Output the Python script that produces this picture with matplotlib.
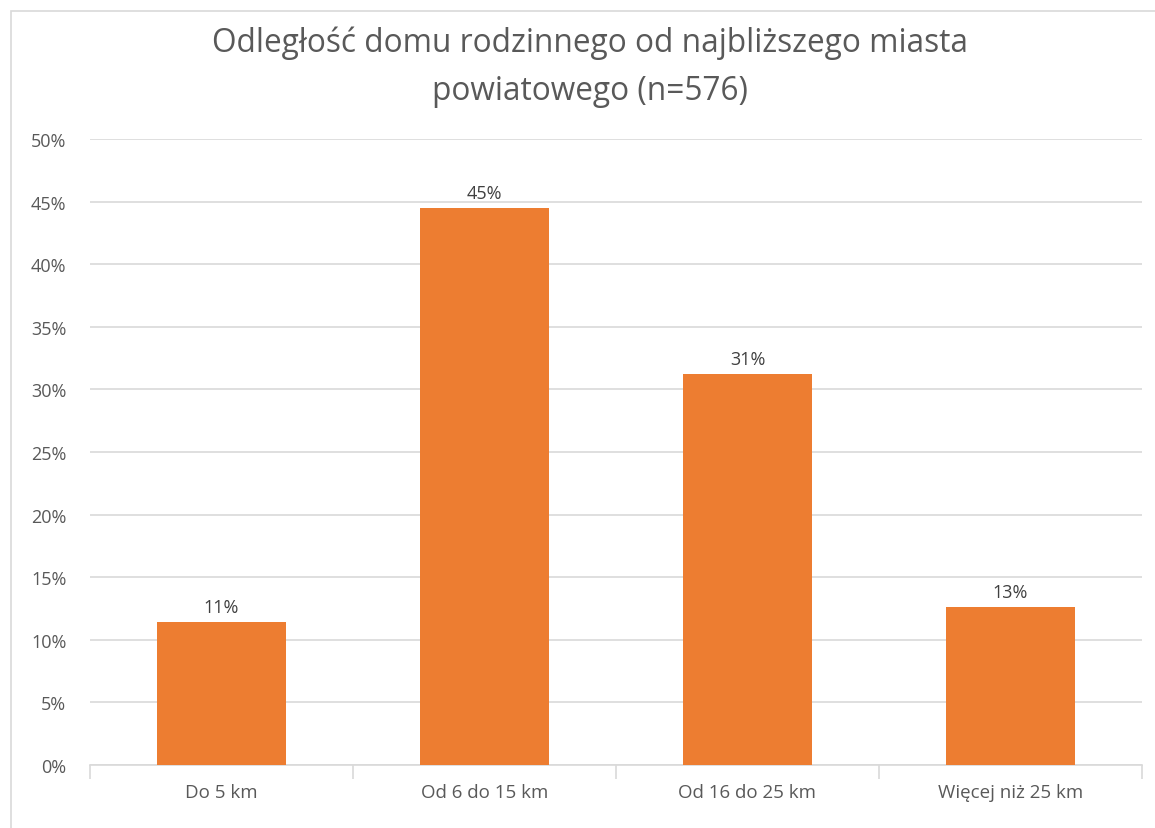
import matplotlib
matplotlib.use("Agg")
import matplotlib.pyplot as plt
from matplotlib.patches import Rectangle
from matplotlib.ticker import MultipleLocator, FuncFormatter

categories = ["Do 5 km", "Od 6 do 15 km", "Od 16 do 25 km", "Więcej niż 25 km"]
values = [11.4, 44.5, 31.2, 12.6]
labels = ["11%", "45%", "31%", "13%"]
title = "Odległość domu rodzinnego od najbliższego miasta\npowiatowego (n=576)"

plt.rcParams['font.family'] = ['Open Sans', 'DejaVu Sans']
txt = "#595959"

fig = plt.figure(figsize=(11.55, 8.29), dpi=100)
fig.patches.append(Rectangle((11/1155, -0.01), 1.05, 1 - 12/829 + 0.01,
                             transform=fig.transFigure, fill=False,
                             edgecolor="#d9d9d9", linewidth=1.2))
ax = fig.add_axes([90/1155, 1 - 766/829, (1142-90)/1155, (766-140)/829])

x = list(range(len(categories)))
bars = ax.bar(x, values, width=0.49, color="#ED7D31", zorder=3)
for b, lab in zip(bars, labels):
    ax.text(b.get_x() + b.get_width()/2, b.get_height() + 0.5, lab,
            ha="center", va="bottom", fontsize=13, color="#404040")

ax.set_xlim(-0.5, len(categories) - 0.5)
ax.set_ylim(0, 50)
ax.yaxis.set_major_locator(MultipleLocator(5))
ax.yaxis.set_major_formatter(FuncFormatter(lambda v, p: f"{int(v)}%"))
ax.grid(axis="y", color="#d9d9d9", linewidth=1.2, zorder=0)
ax.set_xticks(x)
ax.set_xticklabels(categories)
ax.tick_params(axis="x", length=0, labelsize=13.5, labelcolor=txt, pad=13)
ax.tick_params(axis="y", length=0, labelsize=13, labelcolor=txt, pad=17)
ax.set_xticks([i - 0.5 for i in range(len(categories) + 1)], minor=True)
ax.tick_params(axis="x", which="minor", length=10, color="#d9d9d9", width=1.2)
for s in ["top", "right", "left"]:
    ax.spines[s].set_visible(False)
ax.spines["bottom"].set_color("#d9d9d9")
ax.spines["bottom"].set_linewidth(1.2)

fig.text(590/1155, 1 - 67/829, title, ha="center", va="center", fontsize=22.8,
         color=txt, linespacing=1.6)

fig.savefig("out.png", dpi=100, facecolor="white")
